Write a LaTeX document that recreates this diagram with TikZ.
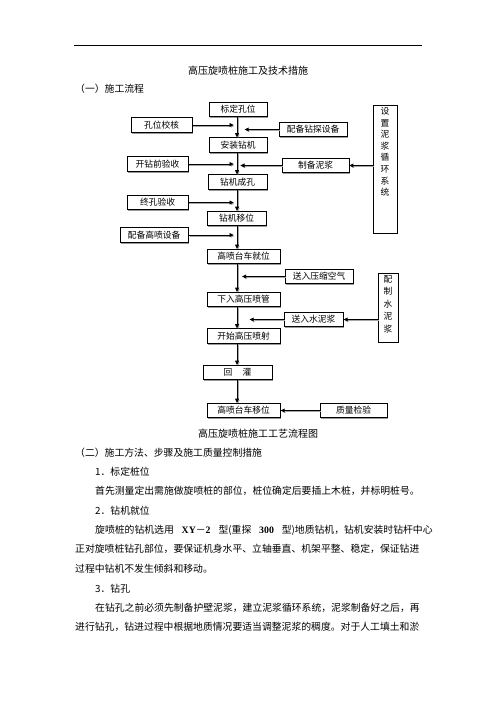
\documentclass[tikz,border=0pt]{standalone}
\usepackage{fontspec}
\setmainfont{Liberation Serif}
\newfontfamily\cjk{Noto Sans CJK SC}
\newfontfamily\latinserif{Liberation Serif}
\usetikzlibrary{arrows.meta, positioning, shadows, calc}
\tikzset{
  step_box/.style={rectangle, draw=black, line width=0.8pt, fill=white, inner sep=2pt, minimum height=17.5pt, font=\cjk\fontsize{10.5}{12}\selectfont, drop shadow={shadow xshift=1.5pt, shadow yshift=-1.5pt, fill=black!40, opacity=1}},
  column_box/.style={step_box, inner sep=3pt},
  arrow/.style={-{Triangle[length=5pt, width=4.5pt]}, line width=1.1pt, black, preaction={draw=black!35, transform canvas={shift={(1.3pt,-1.3pt)}}}},
  title_text/.style={font=\cjk\fontsize{12}{14}\selectfont, inner sep=0pt},
  body_text/.style={font=\cjk\fontsize{11.8}{14}\selectfont, inner sep=0pt, anchor=west},
  rule_line/.style={line width=0.8pt, black}
}

\begin{document}
\begin{tikzpicture}[x=1.2pt, y=-1.2pt]
  \useasboundingbox (0,0) rectangle (496,702);

  % --- Header ---
  \coordinate (rule_start) at (74,45);
  \coordinate (rule_end) at (422,45);
  \draw[rule_line] (rule_start) -- (rule_end);
  \node[title_text] (title) at (248,71) {高压旋喷桩施工及技术措施};
  \node[body_text] (part_one) at (75,89) {（一）施工流程};

  % --- Main Blocks ---
  \coordinate (spine) at (237,0);
  \node[step_box, minimum width=70pt] (biaoding) at (238,109.5) {标定孔位};
  \node[step_box, minimum width=70pt] (anzhuang) at (238,145) {安装钻机};
  \node[step_box, minimum width=71pt] (chengkong) at (237.5,182) {钻机成孔};
  \node[step_box, minimum width=71pt] (yiwei) at (236.5,218.5) {钻机移位};
  \node[step_box, minimum width=88pt] (jiuwei) at (243.5,256.5) {高喷台车就位};
  \node[step_box, minimum width=88pt] (penguan) at (243.5,299.5) {下入高压喷管};
  \node[step_box, minimum width=88pt] (penshe) at (243.5,336) {开始高压喷射};
  \node[step_box, minimum width=83pt] (huiguan) at (237.5,372.5) {回\hspace{1.2em}灌};
  \node[step_box, minimum width=88pt] (yiche) at (243.5,410.5) {高喷台车移位};

  % --- Left inputs ---
  \node[step_box, minimum width=73pt] (kongwei) at (161.5,125) {孔位校核};
  \node[step_box, minimum width=73pt] (kaizuan) at (157.5,164) {开钻前验收};
  \node[step_box, minimum width=73pt] (zhongkong) at (157.5,202.5) {终孔验收};
  \node[step_box, minimum width=82pt] (gaopen) at (154,235) {配备高喷设备};

  % --- Right inputs ---
  \node[step_box, minimum width=82pt] (zuantan) at (313,129.5) {配备钻探设备};
  \node[step_box, minimum width=80pt] (nijiang) at (315.5,165.5) {制备泥浆};
  \node[step_box, minimum width=82pt] (kongqi) at (319,276.5) {送入压缩空气};
  \node[step_box, minimum width=71pt] (shuini) at (313.5,319.5) {送入水泥浆};
  \node[step_box, minimum width=80pt] (jianyan) at (353.5,410.5) {质量检验};

  % --- Vertical blocks ---
  \node[column_box, minimum width=29pt, font=\cjk\fontsize{10.5}{13.9}\selectfont] (xunhuan) at (385,169)
    {\parbox[c][148pt][t]{1.2em}{\centering 设\\置\\泥\\浆\\循\\环\\系\\统}};
  \node[column_box, minimum width=24pt, font=\cjk\fontsize{10.5}{15}\selectfont] (peizhi) at (388,307.5)
    {\parbox[c][77pt][t]{1.2em}{\centering 配\\制\\水\\泥\\浆}};

  % --- Connections ---
  \draw[arrow] (biaoding.south -| spine) -- (anzhuang.north -| spine);
  \draw[arrow] (anzhuang.south -| spine) -- (chengkong.north -| spine);
  \draw[arrow] (chengkong.south -| spine) -- (yiwei.north -| spine);
  \draw[arrow] (yiwei.south -| spine) -- (jiuwei.north -| spine);
  \draw[arrow] (jiuwei.south -| spine) -- (penguan.north -| spine);
  \draw[arrow] (penguan.south -| spine) -- (penshe.north -| spine);
  \draw[arrow] (penshe.south -| spine) -- (huiguan.north -| spine);
  \draw[arrow] (huiguan.south -| spine) -- (yiche.north -| spine);

  \draw[arrow, shorten >=4pt] (kongwei.east) -- (kongwei.east -| spine);
  \draw[arrow, shorten >=4pt] (kaizuan.east) -- (kaizuan.east -| spine);
  \draw[arrow, shorten >=4pt] (zhongkong.east) -- (zhongkong.east -| spine);
  \draw[arrow, shorten >=4pt] (gaopen.east) -- (gaopen.east -| spine);

  \draw[arrow, shorten >=9pt] (zuantan.west) -- (zuantan.west -| spine);
  \draw[arrow, shorten >=4pt] (nijiang.west) -- (nijiang.west -| spine);
  \draw[arrow, shorten >=6pt] (kongqi.west) -- (kongqi.west -| spine);
  \draw[arrow, shorten >=15pt] (shuini.west) -- (shuini.west -| spine);

  \draw[arrow] (nijiang.east -| xunhuan.west) -- (nijiang.east);
  \draw[arrow] (shuini.east -| peizhi.west) -- (shuini.east);
  \draw[arrow] (jianyan.west) -- (yiche.east);

  % --- Caption and text ---
  \node[title_text] (caption) at (258,434) {高压旋喷桩施工工艺流程图};
  \node[body_text] (part_two) at (75,453) {（二）施工方法、步骤及施工质量控制措施};
  \node[body_text] (step_one) at (95,472) {1．标定桩位};
  \node[body_text] (text_one) at (95,491) {首先测量定出需施做旋喷桩的部位，桩位确定后要插上木桩，并标明桩号。};
  \node[body_text] (step_two) at (95,511) {2．钻机就位};
  \node[body_text] (text_two_a) at (95,530) {旋喷桩的钻机选用\hspace{0.8em}{\latinserif\bfseries XY}－{\latinserif\bfseries 2}\hspace{0.8em}型(重探\hspace{0.8em}{\latinserif\bfseries 300}\hspace{0.8em}型)地质钻机，钻机安装时钻杆中心};
  \node[body_text] (text_two_b) at (75,549) {正对旋喷桩钻孔部位，要保证机身水平、立轴垂直、机架平整、稳定，保证钻进};
  \node[body_text] (text_two_c) at (75,569) {过程中钻机不发生倾斜和移动。};
  \node[body_text] (step_three) at (95,589) {3．钻孔};
  \node[body_text] (text_three_a) at (95,608) {在钻孔之前必须先制备护壁泥浆，建立泥浆循环系统，泥浆制备好之后，再};
  \node[body_text] (text_three_b) at (75,627) {进行钻孔，钻进过程中根据地质情况要适当调整泥浆的稠度。对于人工填土和淤};
\end{tikzpicture}
\end{document}
